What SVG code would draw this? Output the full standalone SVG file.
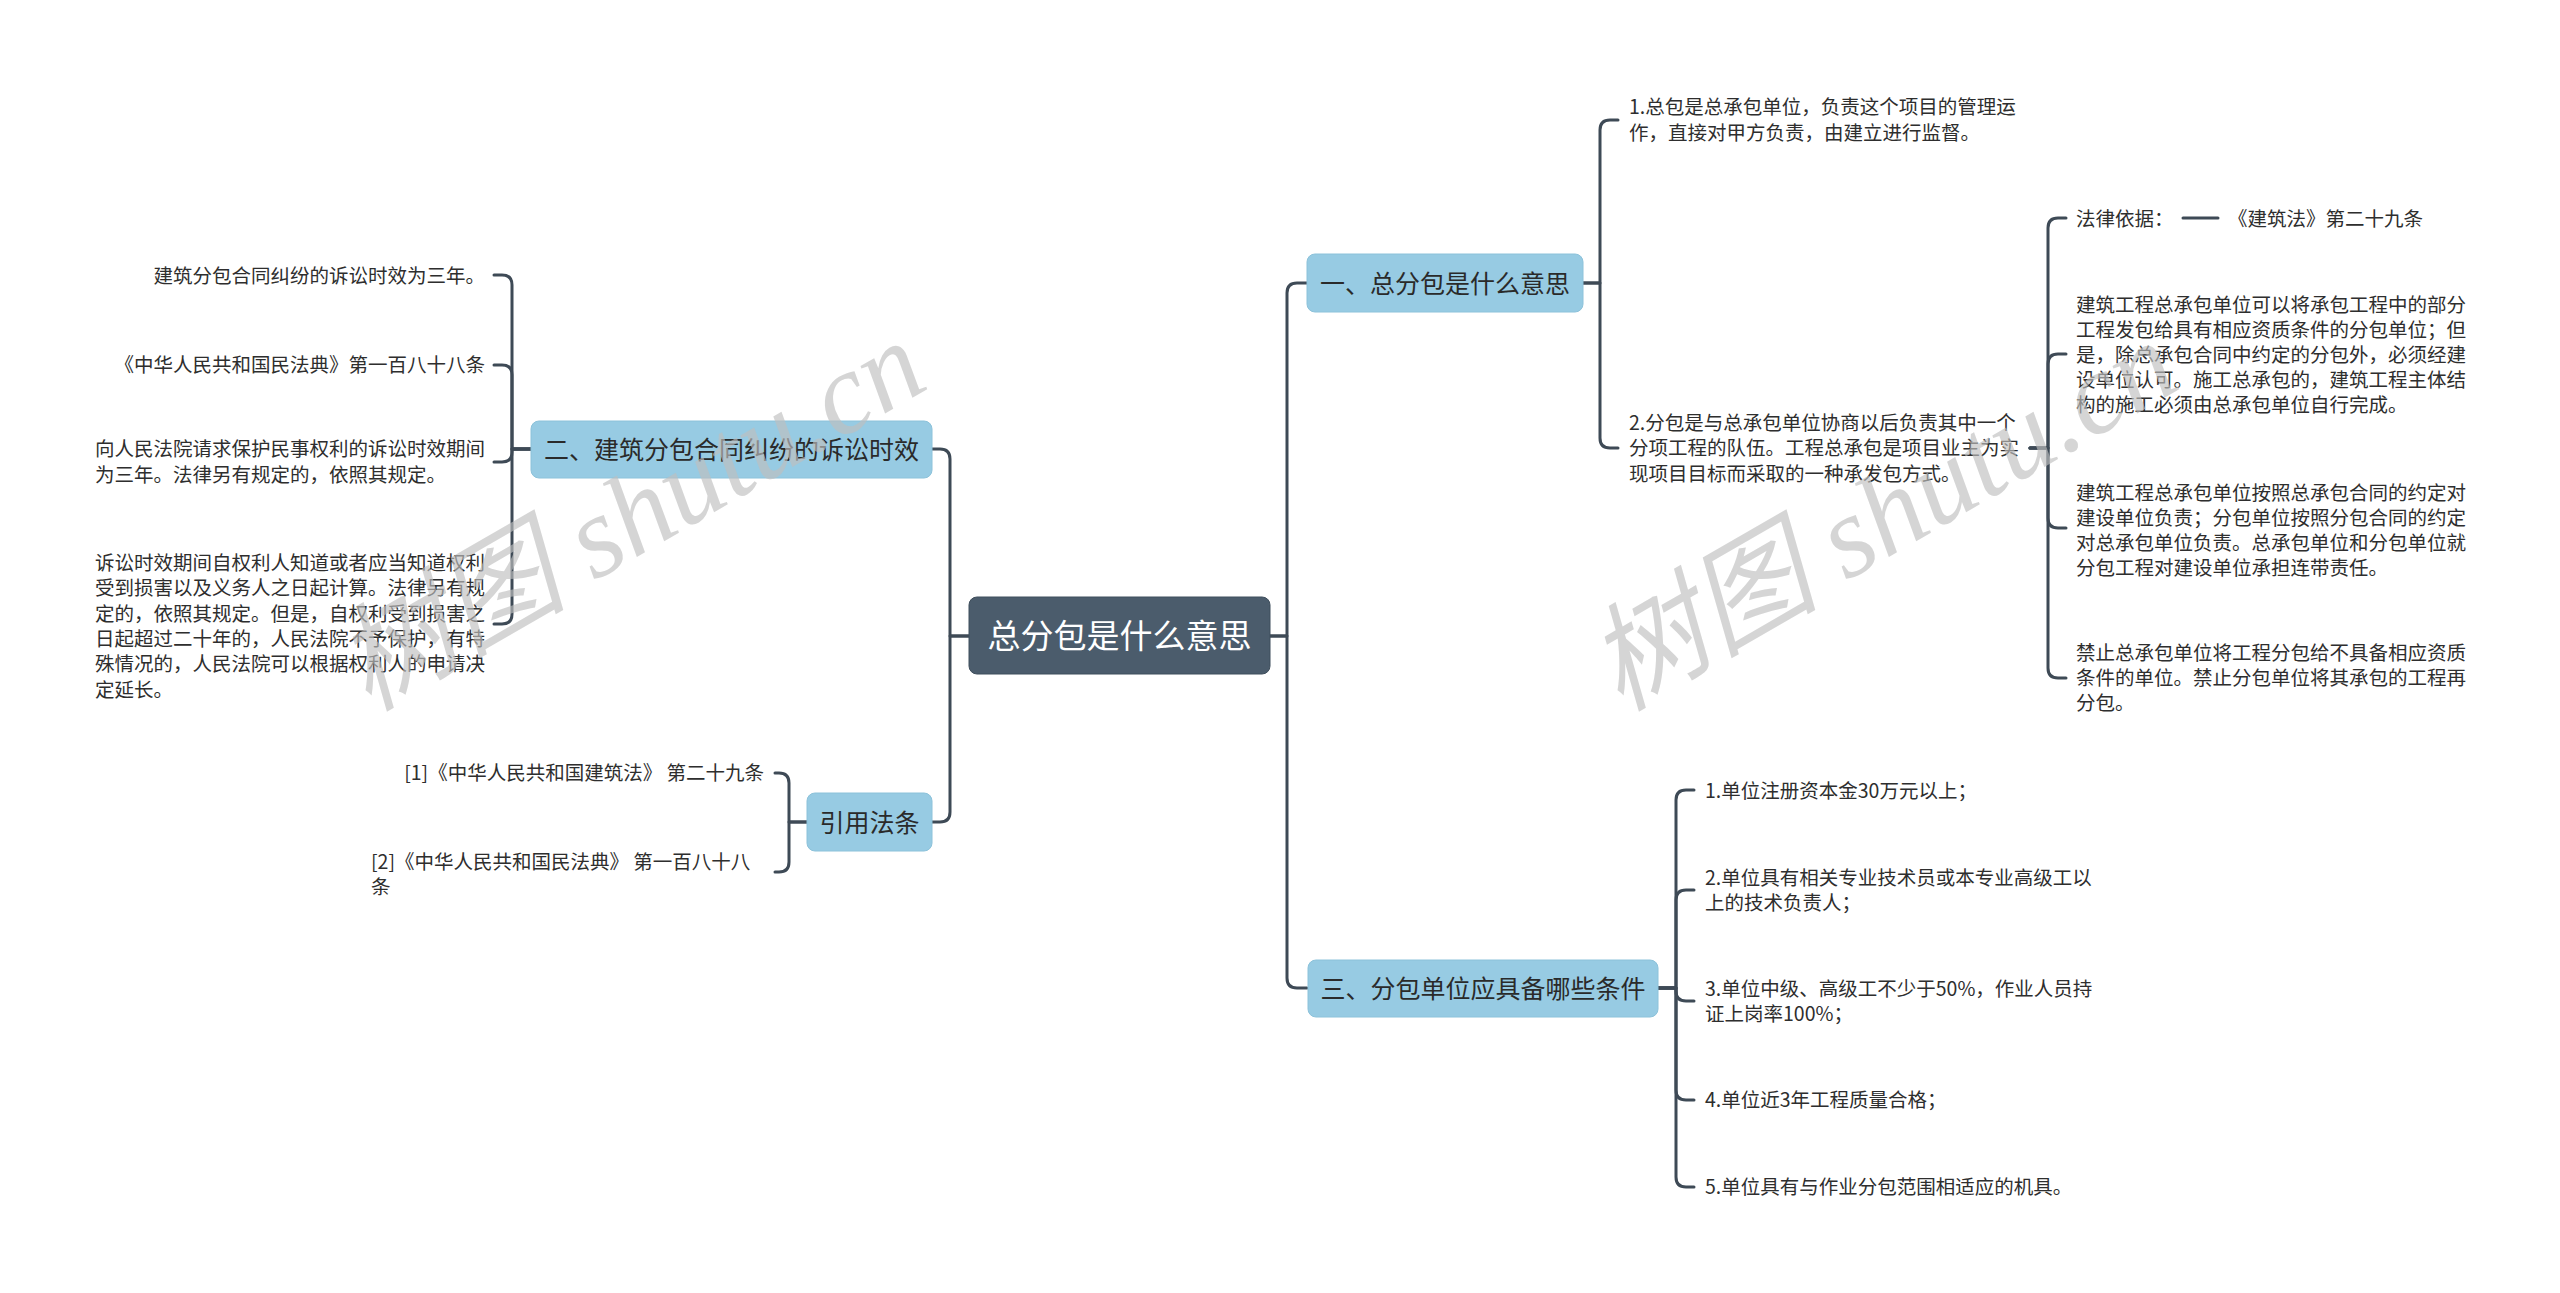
<svg xmlns="http://www.w3.org/2000/svg" width="2560" height="1293" viewBox="0 0 2560 1293">
<style>
.bg{fill:#ffffff}
.ln{fill:none;stroke:#3e4a56;stroke-width:3;stroke-linecap:round;stroke-linejoin:round}
text{font-family:"Noto Sans CJK SC","Liberation Sans",sans-serif}
.leaf{font-size:19.5px;fill:#2e2e2e}
.end{text-anchor:end}
.br rect{fill:#97cbe3;stroke:#8cc2da;stroke-width:1}
.br text{font-size:25px;fill:#2a2a2a;text-anchor:middle}
.root rect{fill:#4b5c6c;stroke:#3f4e5c;stroke-width:1}
.root text{font-size:33px;fill:#ffffff;text-anchor:middle}
.wm{font-family:"Liberation Serif","Noto Sans CJK SC",serif;font-style:italic;font-size:116px;fill:#bfbfbf;fill-opacity:0.65}
</style>
<rect class="bg" x="0" y="0" width="2560" height="1293"/>
<g id="connectors">
<path class="ln" d="M1270 636 H1287 V293 Q1287 283 1297 283 H1307"/>
<path class="ln" d="M1270 636 H1287 V978 Q1287 988 1297 988 H1307"/>
<path class="ln" d="M969 636 H950 V459 Q950 449 940 449 H932"/>
<path class="ln" d="M969 636 H950 V812 Q950 822 940 822 H932"/>
<path class="ln" d="M1583 283 H1600 V130 Q1600 120 1610 120 H1618"/>
<path class="ln" d="M1583 283 H1600 V438 Q1600 448 1610 448 H1618"/>
<path class="ln" d="M2030 448 H2048 V228 Q2048 218 2058 218 H2066"/>
<path class="ln" d="M2030 448 H2048 V364 Q2048 354 2058 354 H2066"/>
<path class="ln" d="M2030 448 H2048 V518 Q2048 528 2058 528 H2066"/>
<path class="ln" d="M2030 448 H2048 V668 Q2048 678 2058 678 H2066"/>
<path class="ln" d="M2183 218 H2218"/>
<path class="ln" d="M1658 988 H1676 V800 Q1676 790 1686 790 H1694"/>
<path class="ln" d="M1658 988 H1676 V900 Q1676 890 1686 890 H1694"/>
<path class="ln" d="M1658 988 H1676 V991 Q1676 1001 1686 1001 H1694"/>
<path class="ln" d="M1658 988 H1676 V1090 Q1676 1100 1686 1100 H1694"/>
<path class="ln" d="M1658 988 H1676 V1177 Q1676 1187 1686 1187 H1694"/>
<path class="ln" d="M531 449 H512 V285 Q512 275 502 275 H494"/>
<path class="ln" d="M531 449 H512 V375 Q512 365 502 365 H494"/>
<path class="ln" d="M531 449 H512 V452 Q512 462 502 462 H494"/>
<path class="ln" d="M531 449 H512 V614 Q512 624 502 624 H494"/>
<path class="ln" d="M807 822 H789 V783 Q789 773 779 773 H775"/>
<path class="ln" d="M807 822 H789 V862 Q789 872 779 872 H775"/>
</g>
<g id="root" class="root"><rect x="969" y="597" width="301" height="77" rx="8"/><text x="1119.5" y="648">总分包是什么意思</text></g>
<g id="b1" class="br"><rect x="1307" y="254" width="276" height="58" rx="8"/><text x="1445" y="292.5">一、总分包是什么意思</text></g>
<g id="b2" class="br"><rect x="531" y="421" width="401" height="57" rx="8"/><text x="731.5" y="458.5">二、建筑分包合同纠纷的诉讼时效</text></g>
<g id="b3" class="br"><rect x="1308" y="960" width="350" height="57" rx="8"/><text x="1483" y="997.5">三、分包单位应具备哪些条件</text></g>
<g id="b4" class="br"><rect x="807" y="793" width="125" height="58" rx="8"/><text x="869.5" y="831.5">引用法条</text></g>
<g id="n1_1"><text class="leaf"><tspan x="1629" y="114">1.总包是总承包单位，负责这个项目的管理运</tspan><tspan x="1629" y="140">作，直接对甲方负责，由建立进行监督。</tspan></text></g>
<g id="n1_2"><text class="leaf"><tspan x="1629" y="430">2.分包是与总承包单位协商以后负责其中一个</tspan><tspan x="1629" y="455">分项工程的队伍。工程总承包是项目业主为实</tspan><tspan x="1629" y="481">现项目目标而采取的一种承发包方式。</tspan></text></g>
<g id="n1_2_1"><text class="leaf" x="2076" y="226">法律依据：</text></g>
<g id="n1_2_1_1"><text class="leaf" x="2228" y="226">《建筑法》第二十九条</text></g>
<g id="n1_2_2"><text class="leaf"><tspan x="2076" y="312">建筑工程总承包单位可以将承包工程中的部分</tspan><tspan x="2076" y="337">工程发包给具有相应资质条件的分包单位；但</tspan><tspan x="2076" y="362">是，除总承包合同中约定的分包外，必须经建</tspan><tspan x="2076" y="387">设单位认可。施工总承包的，建筑工程主体结</tspan><tspan x="2076" y="412">构的施工必须由总承包单位自行完成。</tspan></text></g>
<g id="n1_2_3"><text class="leaf"><tspan x="2076" y="500">建筑工程总承包单位按照总承包合同的约定对</tspan><tspan x="2076" y="525">建设单位负责；分包单位按照分包合同的约定</tspan><tspan x="2076" y="550">对总承包单位负责。总承包单位和分包单位就</tspan><tspan x="2076" y="575">分包工程对建设单位承担连带责任。</tspan></text></g>
<g id="n1_2_4"><text class="leaf"><tspan x="2076" y="660">禁止总承包单位将工程分包给不具备相应资质</tspan><tspan x="2076" y="685">条件的单位。禁止分包单位将其承包的工程再</tspan><tspan x="2076" y="710">分包。</tspan></text></g>
<g id="n3_1"><text class="leaf" x="1705" y="798">1.单位注册资本金30万元以上；</text></g>
<g id="n3_2"><text class="leaf"><tspan x="1705" y="885">2.单位具有相关专业技术员或本专业高级工以</tspan><tspan x="1705" y="910">上的技术负责人；</tspan></text></g>
<g id="n3_3"><text class="leaf"><tspan x="1705" y="996">3.单位中级、高级工不少于50%，作业人员持</tspan><tspan x="1705" y="1021">证上岗率100%；</tspan></text></g>
<g id="n3_4"><text class="leaf" x="1705" y="1107">4.单位近3年工程质量合格；</text></g>
<g id="n3_5"><text class="leaf" x="1705" y="1194">5.单位具有与作业分包范围相适应的机具。</text></g>
<g id="n2_1"><text class="leaf end" x="485" y="283">建筑分包合同纠纷的诉讼时效为三年。</text></g>
<g id="n2_2"><text class="leaf end" x="485" y="372">《中华人民共和国民法典》第一百八十八条</text></g>
<g id="n2_3"><text class="leaf"><tspan x="95" y="456">向人民法院请求保护民事权利的诉讼时效期间</tspan><tspan x="95" y="482">为三年。法律另有规定的，依照其规定。</tspan></text></g>
<g id="n2_4"><text class="leaf"><tspan x="95" y="570">诉讼时效期间自权利人知道或者应当知道权利</tspan><tspan x="95" y="595">受到损害以及义务人之日起计算。法律另有规</tspan><tspan x="95" y="621">定的，依照其规定。但是，自权利受到损害之</tspan><tspan x="95" y="646">日起超过二十年的，人民法院不予保护，有特</tspan><tspan x="95" y="671">殊情况的，人民法院可以根据权利人的申请决</tspan><tspan x="95" y="697">定延长。</tspan></text></g>
<g id="n4_1"><text class="leaf end" x="764" y="780">[1]《中华人民共和国建筑法》 第二十九条</text></g>
<g id="n4_2"><text class="leaf"><tspan x="371" y="869">[2]《中华人民共和国民法典》 第一百八十八</tspan><tspan x="371" y="894">条</tspan></text></g>
<g id="watermarks">
<text class="wm" transform="translate(368 712) rotate(-30)">树图 shutu.cn</text>
<text class="wm" transform="translate(1620 712) rotate(-30)">树图 shutu.cn</text>
</g>
</svg>
